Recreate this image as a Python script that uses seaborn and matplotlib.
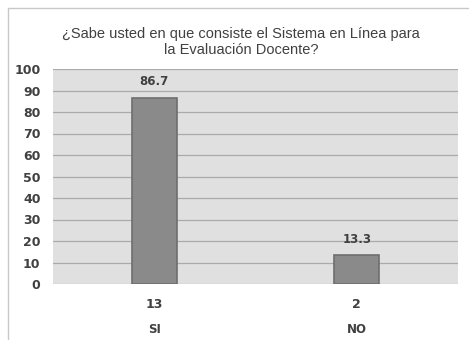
import matplotlib
matplotlib.use("Agg")
import matplotlib.pyplot as plt
import seaborn as sns
import pandas as pd
from matplotlib.lines import Line2D

# Survey results
categories = ["SI", "NO"]
counts = [13, 2]
percentages = [86.7, 13.3]
title = "¿Sabe usted en que consiste el Sistema en Línea para\nla Evaluación Docente?"
y_ticks = list(range(0, 101, 10))

df = pd.DataFrame({"cat": categories, "pct": percentages, "n": counts})

sns.set_style("white")
plt.rcParams["font.family"] = ["DejaVu Sans"]

fig = plt.figure(figsize=(4.69, 3.40), dpi=100)
fig.patch.set_facecolor("white")
ax = fig.add_axes([53 / 469, 56 / 340, 405 / 469, 215 / 340])
ax.set_facecolor("#e0e0e0")

sns.barplot(data=df, x="cat", y="pct", color="#8a8a8a", width=0.22,
            edgecolor="#6e6e6e", linewidth=1.2, saturation=1, ax=ax, zorder=3)

ax.set_ylim(0, 100)
ax.set_yticks(y_ticks)
ax.yaxis.grid(True, color="#aaaaaa", linewidth=0.9, zorder=0)
ax.set_axisbelow(True)
for s in ax.spines.values():
    s.set_visible(False)
ax.tick_params(axis="both", length=0, colors="#404040", labelsize=9)
for lbl in ax.get_yticklabels():
    lbl.set_fontweight("bold")
ax.tick_params(axis="y", pad=9)

# count on the first row, answer below
ax.set_xticks(range(len(categories)))
ax.set_xticklabels([str(n) for n in counts], fontweight="bold")
ax.tick_params(axis="x", pad=10)
for i, c in enumerate(categories):
    ax.text(i, -0.21, c, transform=ax.get_xaxis_transform(), ha="center",
            va="center", fontsize=8.5, fontweight="bold", color="#404040")
ax.set_xlabel("")
ax.set_ylabel("")

# value labels above the bars
for i, v in enumerate(percentages):
    ax.annotate(f"{v}", (i, v), xytext=(0, 7), textcoords="offset points",
                ha="center", va="bottom", fontsize=8.5, fontweight="bold",
                color="#404040")

fig.text(241 / 469, 1 - 42 / 340, title, ha="center", va="center",
         fontsize=10.5, color="#404040", family="Liberation Sans",
         linespacing=1.2)

# chart frame (top and left edges)
fig.add_artist(Line2D([8 / 469, 1], [1 - 8 / 340] * 2, color="#c8c8c8",
                      linewidth=1, transform=fig.transFigure))
fig.add_artist(Line2D([8 / 469] * 2, [0, 1 - 8 / 340], color="#c8c8c8",
                      linewidth=1, transform=fig.transFigure))

fig.savefig("out.png", dpi=100)
